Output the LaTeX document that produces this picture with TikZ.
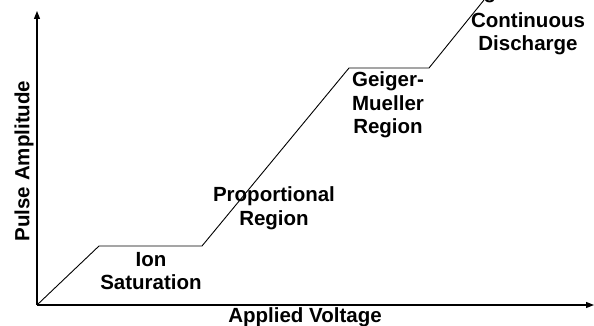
\documentclass[tikz,border=0pt]{standalone}
\usepackage{fontspec}
\setmainfont{Liberation Sans}
\usetikzlibrary{arrows.meta}

\tikzset{axis_line/.style={line width=1.3pt, -{Triangle[length=8pt,width=6pt]}}}
\tikzset{curve_line/.style={line width=0.9pt, line join=miter}}
\tikzset{region_label/.style={inner sep=0pt, align=center, font=\fontsize{20.5}{23.5}\selectfont\bfseries}}

\begin{document}
\begin{tikzpicture}[x=1pt,y=1pt]
    \useasboundingbox (0,0) rectangle (594,326);
    \coordinate (o) at (37,21);
    \coordinate (ytop) at (37,315);
    \coordinate (xend) at (594,21);
    \draw[axis_line] (o)--(ytop);
    \draw[axis_line] (o)--(xend);
    \draw \foreach \p [count=\i] in {(99,80),(202,80),(349,258),(429,258),(484,326)}{\p coordinate(p\i)};
    \draw[curve_line] (o)--(p1)--(p2)--(p3)--(p4)--(p5);
    \node[region_label, rotate=90] (amp) at (24,165) {Pulse Amplitude};
    \node[region_label, anchor=base] (volt) at (305,3) {Applied Voltage};
    \node[region_label] (ion) at (151,55) {Ion\\Saturation};
    \node[region_label] (prop) at (274,118) {Proportional\\Region};
    \node[region_label] (gm) at (388,221) {Geiger-\\Mueller\\Region};
    \node[region_label] (cd) at (528,292) {Continuous\\Discharge};
    \node[region_label, anchor=base] (cut) at (490,327) {g};
  \end{tikzpicture}
\end{document}
